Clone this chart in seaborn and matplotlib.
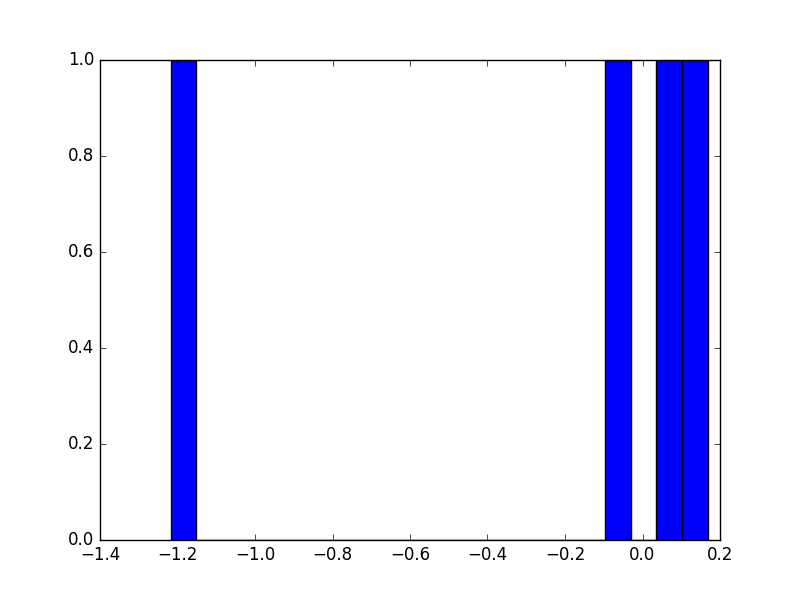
import matplotlib
matplotlib.use("Agg")
import matplotlib.pyplot as plt
import seaborn as sns
import pandas as pd

# sample values (one sample per bar)
values = [-1.218, -0.061, 0.069, 0.168]
n_bins = 21

plt.style.use("classic")

df = pd.DataFrame({"value": values})

fig, ax = plt.subplots(figsize=(8, 6), dpi=100)
sns.histplot(data=df, x="value", bins=n_bins, color="blue", edgecolor="black",
             linewidth=1, alpha=1, ax=ax)

ax.set_xlim(-1.4, 0.2)
ax.set_ylim(0, 1)
ax.set_xlabel("")
ax.set_ylabel("")

plt.savefig("out.png", dpi=100)
